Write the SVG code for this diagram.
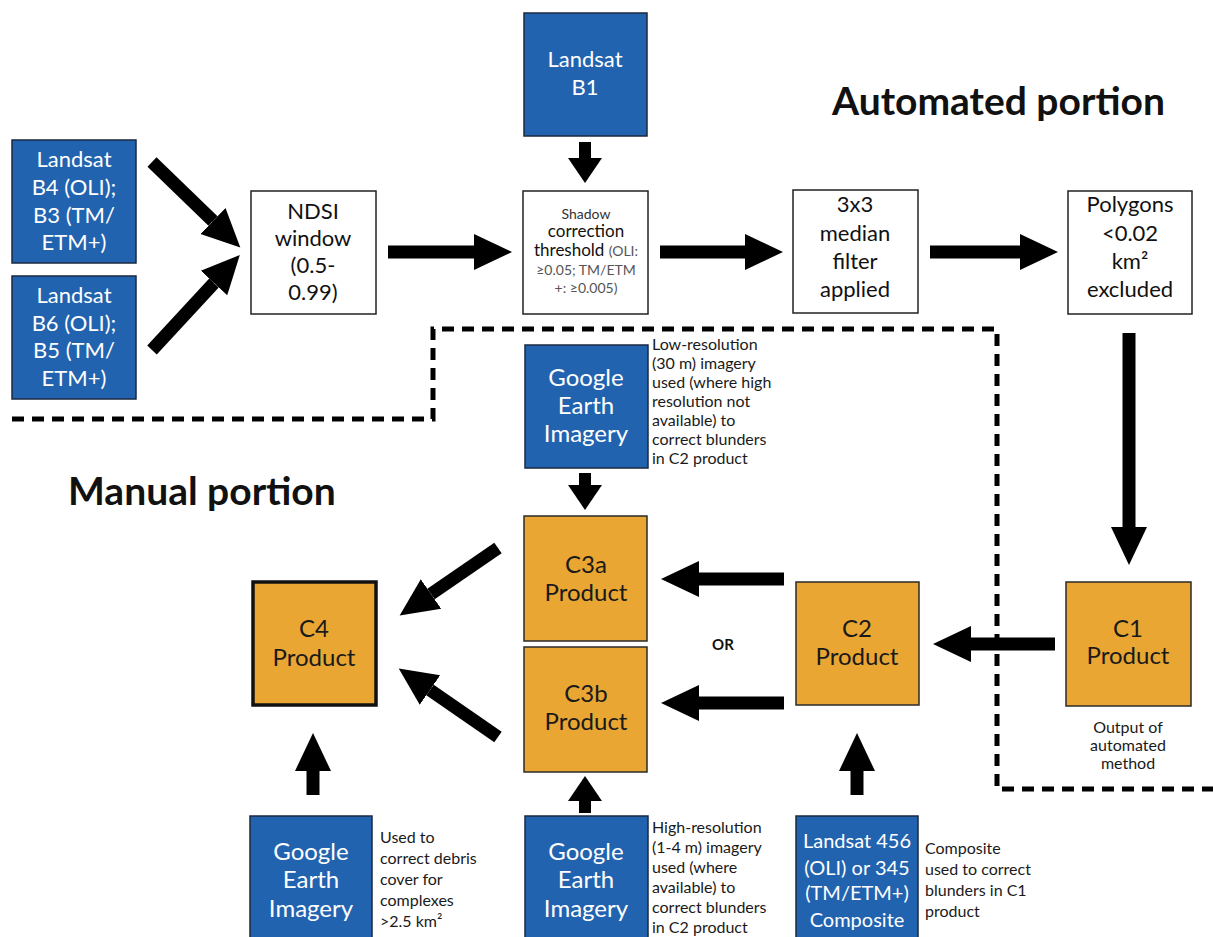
<svg xmlns="http://www.w3.org/2000/svg" width="1213" height="937" viewBox="0 0 1213 937">
<style>
text{font-family:Lato,"Open Sans","Liberation Sans",sans-serif}
.blue{fill:#2263b0;stroke:#1a2a40;stroke-width:1.5}
.white{fill:#fff;stroke:#222;stroke-width:1.5}
.orange{fill:#e9a633;stroke:#2a2a2a;stroke-width:1.5}
.wt{fill:#fff;font-size:22px;text-anchor:middle}
.bt{fill:#111;font-size:22px;text-anchor:middle}
.ot{fill:#1a1a1a;font-size:24px;text-anchor:middle}
.side{fill:#1a1a1a;font-size:16px}
.title{fill:#111;font-size:39px;font-weight:bold}
.arrow{stroke:#000;stroke-width:13;fill:none}
.arrowS{stroke:#000;stroke-width:12;fill:none}
.dash{stroke:#000;stroke-width:5;fill:none;stroke-dasharray:12 8}
</style>
<defs>
<marker id="hb" markerUnits="userSpaceOnUse" markerWidth="42" markerHeight="42" viewBox="0 -21 42 42" refX="0" refY="0" orient="auto"><path d="M0,-18 L38,0 L0,18 Z" fill="#000"/></marker>
<marker id="hs" markerUnits="userSpaceOnUse" markerWidth="42" markerHeight="42" viewBox="0 -21 42 42" refX="0" refY="0" orient="auto"><path d="M0,-17 L25,0 L0,17 Z" fill="#000"/></marker>
</defs>
<rect width="1213" height="937" fill="#fff"/>

<text class="title" x="832" y="115">Automated portion</text>
<text class="title" x="68" y="505">Manual portion</text>

<g id="boundary">
<path class="dash" d="M12,419 H433 V329 H997 V789 H1213"/>
</g>

<g id="connectors">
<line class="arrow" x1="152" y1="162" x2="213" y2="221" marker-end="url(#hb)"/>
<line class="arrow" x1="152" y1="350" x2="214" y2="283" marker-end="url(#hb)"/>
<line class="arrow" x1="388" y1="252" x2="474" y2="252" marker-end="url(#hb)"/>
<line class="arrowS" x1="585" y1="142" x2="585" y2="158" marker-end="url(#hs)"/>
<line class="arrow" x1="660" y1="252" x2="745" y2="252" marker-end="url(#hb)"/>
<line class="arrow" x1="930" y1="252" x2="1020" y2="252" marker-end="url(#hb)"/>
<line class="arrow" x1="1129" y1="333" x2="1129" y2="527" marker-end="url(#hb)"/>
<line class="arrow" x1="1055" y1="644" x2="971" y2="644" marker-end="url(#hb)"/>
<line class="arrow" x1="784" y1="579" x2="699" y2="579" marker-end="url(#hb)"/>
<line class="arrow" x1="784" y1="703" x2="699" y2="703" marker-end="url(#hb)"/>
<line class="arrow" x1="498" y1="548" x2="431" y2="594" marker-end="url(#hb)"/>
<line class="arrow" x1="498" y1="737" x2="430" y2="690" marker-end="url(#hb)"/>
<line class="arrowS" x1="585" y1="473" x2="585" y2="485" marker-end="url(#hs)"/>
<line class="arrowS" x1="585" y1="813" x2="585" y2="801" marker-end="url(#hs)"/>
<line class="arrow" x1="313" y1="795" x2="313" y2="771" marker-end="url(#hb)"/>
<line class="arrow" x1="857" y1="795" x2="857" y2="771" marker-end="url(#hb)"/>
</g>

<g id="landsat-b4">
<rect class="blue" x="12" y="140" width="124" height="123"/>
<text class="wt" x="74" y="167">Landsat</text>
<text class="wt" x="74" y="195">B4 (OLI);</text>
<text class="wt" x="74" y="223">B3 (TM/</text>
<text class="wt" x="74" y="250">ETM+)</text>
</g>
<g id="landsat-b6">
<rect class="blue" x="12" y="276" width="124" height="123"/>
<text class="wt" x="74" y="303">Landsat</text>
<text class="wt" x="74" y="331">B6 (OLI);</text>
<text class="wt" x="74" y="358">B5 (TM/</text>
<text class="wt" x="74" y="386">ETM+)</text>
</g>
<g id="ndsi">
<rect class="white" x="251" y="191" width="125" height="123"/>
<text class="bt" x="313" y="219">NDSI</text>
<text class="bt" x="313" y="246">window</text>
<text class="bt" x="313" y="273">(0.5-</text>
<text class="bt" x="313" y="300">0.99)</text>
</g>
<g id="landsat-b1">
<rect class="blue" x="524" y="13" width="123" height="123"/>
<text class="wt" x="585" y="67">Landsat</text>
<text class="wt" x="585" y="95">B1</text>
</g>
<g id="shadow">
<rect class="white" x="523" y="191" width="125" height="123"/>
<text x="586" y="219" style="font-size:14px;fill:#333;text-anchor:middle">Shadow</text>
<text x="586" y="237" style="font-size:17px;fill:#111;text-anchor:middle">correction</text>
<text x="586" y="256" style="text-anchor:middle"><tspan style="font-size:17px;fill:#111">threshold </tspan><tspan style="font-size:14px;fill:#555">(OLI:</tspan></text>
<text x="586" y="275" style="font-size:14px;fill:#555;text-anchor:middle">≥0.05; TM/ETM</text>
<text x="586" y="293" style="font-size:14px;fill:#555;text-anchor:middle">+: ≥0.005)</text>
</g>
<g id="median">
<rect class="white" x="793" y="190" width="125" height="123"/>
<text class="bt" x="855" y="212">3x3</text>
<text class="bt" x="855" y="241">median</text>
<text class="bt" x="855" y="269">filter</text>
<text class="bt" x="855" y="297">applied</text>
</g>
<g id="polygons">
<rect class="white" x="1068" y="191" width="124" height="123"/>
<text class="bt" x="1130" y="212">Polygons</text>
<text class="bt" x="1130" y="241">&lt;0.02</text>
<text class="bt" x="1130" y="269">km²</text>
<text class="bt" x="1130" y="297">excluded</text>
</g>
<g id="ge-low">
<rect class="blue" x="525" y="345" width="123" height="123"/>
<text class="wt" x="586" y="386" style="font-size:24px">Google</text>
<text class="wt" x="586" y="414" style="font-size:24px">Earth</text>
<text class="wt" x="586" y="442" style="font-size:24px">Imagery</text>
<text class="side" x="652" y="350">Low-resolution</text>
<text class="side" x="652" y="369">(30 m) imagery</text>
<text class="side" x="652" y="388">used (where high</text>
<text class="side" x="652" y="407">resolution not</text>
<text class="side" x="652" y="426">available) to</text>
<text class="side" x="652" y="445">correct blunders</text>
<text class="side" x="652" y="464">in C2 product</text>
</g>
<g id="c3a">
<rect class="orange" x="524" y="516" width="123" height="125"/>
<text class="ot" x="586" y="573">C3a</text>
<text class="ot" x="586" y="601">Product</text>
</g>
<g id="c3b">
<rect class="orange" x="524" y="647" width="123" height="125"/>
<text class="ot" x="586" y="702">C3b</text>
<text class="ot" x="586" y="730">Product</text>
</g>
<g id="c4">
<rect x="253" y="582" width="123" height="123" fill="#e9a633" stroke="#111" stroke-width="3.5"/>
<text class="ot" x="314" y="637">C4</text>
<text class="ot" x="314" y="666">Product</text>
</g>
<text x="723" y="650" style="font-size:15px;font-weight:bold;fill:#111;text-anchor:middle">OR</text>
<g id="c2">
<rect class="orange" x="796" y="582" width="123" height="123"/>
<text class="ot" x="857" y="637">C2</text>
<text class="ot" x="857" y="665">Product</text>
</g>
<g id="c1">
<rect class="orange" x="1066" y="582" width="125" height="124"/>
<text class="ot" x="1128" y="637">C1</text>
<text class="ot" x="1128" y="664">Product</text>
<text class="side" x="1128" y="733" text-anchor="middle">Output of</text>
<text class="side" x="1128" y="751" text-anchor="middle">automated</text>
<text class="side" x="1128" y="769" text-anchor="middle">method</text>
</g>
<g id="ge-debris">
<rect class="blue" x="250" y="816" width="122" height="125"/>
<text class="wt" x="311" y="860" style="font-size:24px">Google</text>
<text class="wt" x="311" y="888" style="font-size:24px">Earth</text>
<text class="wt" x="311" y="917" style="font-size:24px">Imagery</text>
<text class="side" x="380" y="843">Used to</text>
<text class="side" x="380" y="864">correct debris</text>
<text class="side" x="380" y="885">cover for</text>
<text class="side" x="380" y="906">complexes</text>
<text class="side" x="380" y="927">&gt;2.5 km²</text>
</g>
<g id="ge-high">
<rect class="blue" x="525" y="816" width="123" height="125"/>
<text class="wt" x="586" y="860" style="font-size:24px">Google</text>
<text class="wt" x="586" y="888" style="font-size:24px">Earth</text>
<text class="wt" x="586" y="917" style="font-size:24px">Imagery</text>
<text class="side" x="652" y="833">High-resolution</text>
<text class="side" x="652" y="853">(1-4 m) imagery</text>
<text class="side" x="652" y="873">used (where</text>
<text class="side" x="652" y="893">available) to</text>
<text class="side" x="652" y="913">correct blunders</text>
<text class="side" x="652" y="933">in C2 product</text>
</g>
<g id="landsat-composite">
<rect class="blue" x="796" y="816" width="122" height="125"/>
<text class="wt" x="857" y="848" style="font-size:20px">Landsat 456</text>
<text class="wt" x="857" y="875" style="font-size:20px">(OLI) or 345</text>
<text class="wt" x="857" y="900" style="font-size:20px">(TM/ETM+)</text>
<text class="wt" x="857" y="927" style="font-size:20px">Composite</text>
<text class="side" x="925" y="854">Composite</text>
<text class="side" x="925" y="875">used to correct</text>
<text class="side" x="925" y="896">blunders in C1</text>
<text class="side" x="925" y="917">product</text>
</g>
</svg>
